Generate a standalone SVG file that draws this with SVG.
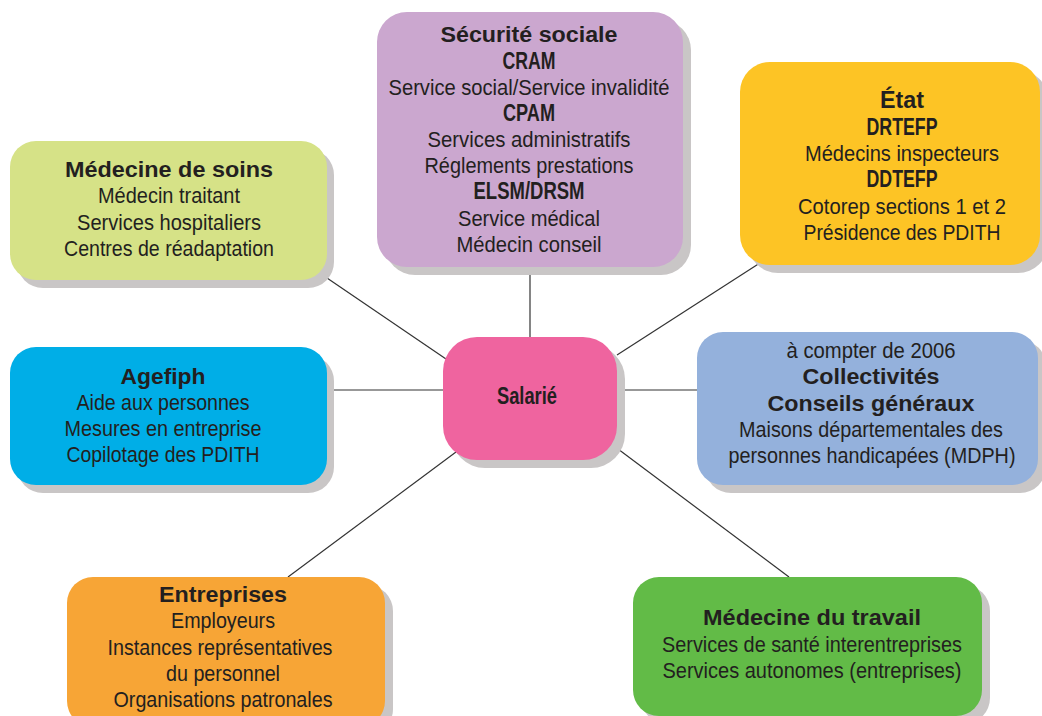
<svg xmlns="http://www.w3.org/2000/svg" width="1042" height="716" viewBox="0 0 1042 716">
<style>
.sh{fill:#c9c6c6}
text{font-family:"Liberation Sans",Arial,sans-serif;fill:#231f20;text-anchor:middle}
.t{font-size:22px}
.bc{font-size:23px;font-weight:bold}
.bw{font-size:22px;font-weight:bold}
.ln{stroke:#333;stroke-width:1.2;fill:none}
</style>
<rect width="1042" height="716" fill="#fff"/>
<g id="connectors">
<line class="ln" x1="327" y1="278" x2="446" y2="359"/>
<line class="ln" x1="530" y1="267" x2="530" y2="338"/>
<line class="ln" x1="763" y1="261" x2="617" y2="355"/>
<line class="ln" x1="327" y1="390" x2="443" y2="390"/>
<line class="ln" x1="617" y1="390" x2="697" y2="390"/>
<line class="ln" x1="456" y1="452" x2="288" y2="577"/>
<line class="ln" x1="618" y1="449" x2="789" y2="577"/>
</g>
<g id="medecine-soins">
<rect class="sh" x="17" y="149" width="317" height="139" rx="26"/>
<rect x="10" y="141" width="317" height="139" rx="26" fill="#d6e287"/>
<text class="bw" x="169" y="177" textLength="208" lengthAdjust="spacingAndGlyphs">Médecine de soins</text>
<text class="t" x="169" y="203" textLength="142" lengthAdjust="spacingAndGlyphs">Médecin traitant</text>
<text class="t" x="169" y="230" textLength="184" lengthAdjust="spacingAndGlyphs">Services hospitaliers</text>
<text class="t" x="169" y="256" textLength="210" lengthAdjust="spacingAndGlyphs">Centres de réadaptation</text>
</g>
<g id="securite-sociale">
<rect class="sh" x="385" y="20" width="306" height="255" rx="30"/>
<rect x="377" y="12" width="306" height="255" rx="30" fill="#cba7cf"/>
<text class="bw" x="529" y="42" textLength="177" lengthAdjust="spacingAndGlyphs">Sécurité sociale</text>
<text class="bc" x="529" y="69" textLength="53" lengthAdjust="spacingAndGlyphs">CRAM</text>
<text class="t" x="529" y="95" textLength="281" lengthAdjust="spacingAndGlyphs">Service social/Service invalidité</text>
<text class="bc" x="529" y="121" textLength="52" lengthAdjust="spacingAndGlyphs">CPAM</text>
<text class="t" x="529" y="147" textLength="203" lengthAdjust="spacingAndGlyphs">Services administratifs</text>
<text class="t" x="529" y="173" textLength="209" lengthAdjust="spacingAndGlyphs">Réglements prestations</text>
<text class="bc" x="529" y="199" textLength="111" lengthAdjust="spacingAndGlyphs">ELSM/DRSM</text>
<text class="t" x="529" y="226" textLength="142" lengthAdjust="spacingAndGlyphs">Service médical</text>
<text class="t" x="529" y="252" textLength="145" lengthAdjust="spacingAndGlyphs">Médecin conseil</text>
</g>
<g id="etat">
<rect class="sh" x="748" y="70" width="300" height="203" rx="30"/>
<rect x="740" y="62" width="300" height="203" rx="30" fill="#fdc425"/>
<text class="bc" x="902" y="108" textLength="44" lengthAdjust="spacingAndGlyphs">État</text>
<text class="bc" x="902" y="135" textLength="71" lengthAdjust="spacingAndGlyphs">DRTEFP</text>
<text class="t" x="902" y="161" textLength="194" lengthAdjust="spacingAndGlyphs">Médecins inspecteurs</text>
<text class="bc" x="902" y="187" textLength="71" lengthAdjust="spacingAndGlyphs">DDTEFP</text>
<text class="t" x="902" y="214" textLength="208" lengthAdjust="spacingAndGlyphs">Cotorep sections 1 et 2</text>
<text class="t" x="902" y="240" textLength="197" lengthAdjust="spacingAndGlyphs">Présidence des PDITH</text>
</g>
<g id="salarie">
<rect class="sh" x="451" y="345" width="174" height="123" rx="34"/>
<rect x="443" y="337" width="174" height="123" rx="34" fill="#ef649f"/>
<text class="bc" x="527" y="404" style="font-size:24px" textLength="60" lengthAdjust="spacingAndGlyphs">Salarié</text>
</g>
<g id="agefiph">
<rect class="sh" x="17" y="355" width="317" height="138" rx="26"/>
<rect x="10" y="347" width="317" height="138" rx="26" fill="#00aee7"/>
<text class="bw" x="163" y="384" textLength="85" lengthAdjust="spacingAndGlyphs">Agefiph</text>
<text class="t" x="163" y="410" textLength="173" lengthAdjust="spacingAndGlyphs">Aide aux personnes</text>
<text class="t" x="163" y="436" textLength="197" lengthAdjust="spacingAndGlyphs">Mesures en entreprise</text>
<text class="t" x="163" y="462" textLength="193" lengthAdjust="spacingAndGlyphs">Copilotage des PDITH</text>
</g>
<g id="collectivites">
<rect class="sh" x="705" y="340" width="341" height="153" rx="26"/>
<rect x="697" y="332" width="341" height="153" rx="26" fill="#94b1dc"/>
<text class="t" x="871" y="358" textLength="169" lengthAdjust="spacingAndGlyphs">à compter de 2006</text>
<text class="bw" x="871" y="384" textLength="137" lengthAdjust="spacingAndGlyphs">Collectivités</text>
<text class="bw" x="871" y="411" textLength="207" lengthAdjust="spacingAndGlyphs">Conseils généraux</text>
<text class="t" x="871" y="437" textLength="264" lengthAdjust="spacingAndGlyphs">Maisons départementales des</text>
<text class="t" x="872" y="463" textLength="287" lengthAdjust="spacingAndGlyphs">personnes handicapées (MDPH)</text>
</g>
<g id="entreprises">
<rect class="sh" x="75" y="585" width="318" height="150" rx="26"/>
<rect x="67" y="577" width="318" height="150" rx="26" fill="#f7a536"/>
<text class="bw" x="223" y="602" textLength="128" lengthAdjust="spacingAndGlyphs">Entreprises</text>
<text class="t" x="223" y="628" textLength="104" lengthAdjust="spacingAndGlyphs">Employeurs</text>
<text class="t" x="220" y="655" textLength="225" lengthAdjust="spacingAndGlyphs">Instances représentatives</text>
<text class="t" x="223" y="681" textLength="114" lengthAdjust="spacingAndGlyphs">du personnel</text>
<text class="t" x="223" y="707" textLength="219" lengthAdjust="spacingAndGlyphs">Organisations patronales</text>
</g>
<g id="medecine-travail">
<rect class="sh" x="641" y="585" width="349" height="139" rx="26"/>
<rect x="633" y="577" width="349" height="139" rx="26" fill="#62bb47"/>
<text class="bw" x="812" y="625" textLength="218" lengthAdjust="spacingAndGlyphs">Médecine du travail</text>
<text class="t" x="812" y="652" textLength="300" lengthAdjust="spacingAndGlyphs">Services de santé interentreprises</text>
<text class="t" x="812" y="678" textLength="299" lengthAdjust="spacingAndGlyphs">Services autonomes (entreprises)</text>
</g>
</svg>
